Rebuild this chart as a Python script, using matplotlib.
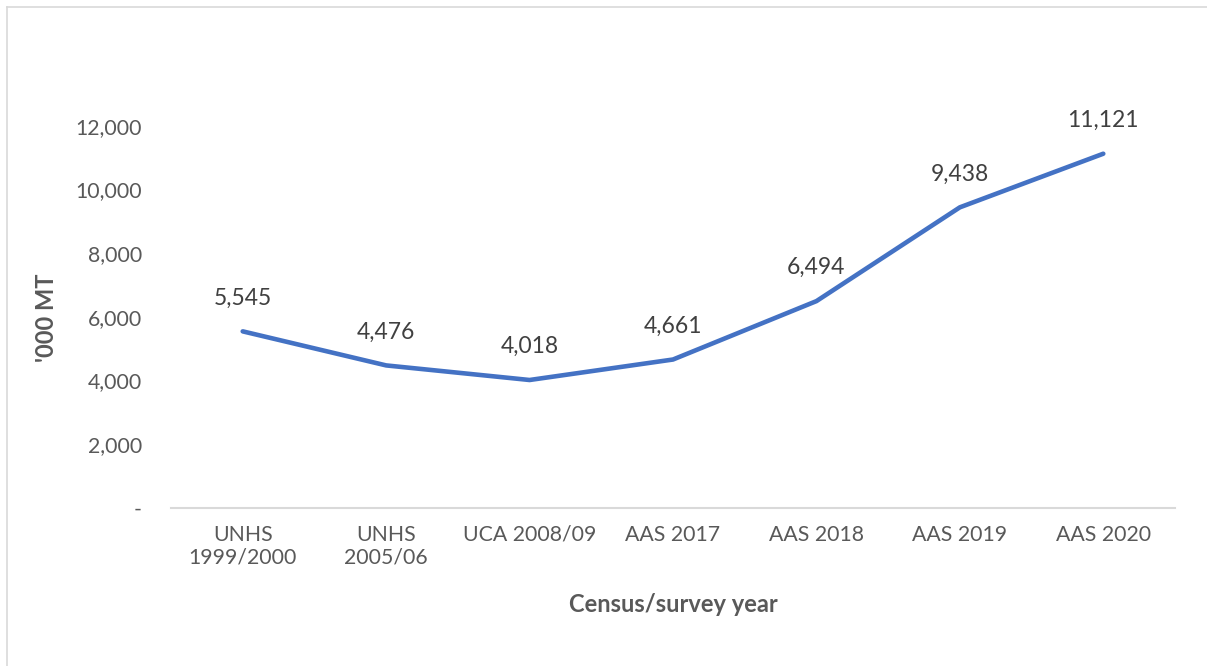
import matplotlib.pyplot as plt
from matplotlib.lines import Line2D

categories = ["UNHS\n1999/2000", "UNHS\n2005/06", "UCA 2008/09", "AAS 2017",
              "AAS 2018", "AAS 2019", "AAS 2020"]
production = [5545, 4476, 4018, 4661, 6494, 9438, 11121]
y_ticks = [0, 2000, 4000, 6000, 8000, 10000, 12000]

plt.rcParams["font.family"] = ["Lato", "DejaVu Sans"]

W, H = 1207, 666
fig = plt.figure(figsize=(W / 100, H / 100), dpi=100)
ax = fig.add_axes([171 / W, (H - 508) / H, 1004 / W, 446 / H])

x = list(range(len(categories)))
ax.plot(x, production, color="#4472C4", linewidth=3.3, solid_capstyle="round",
        solid_joinstyle="round")
for xi, v in zip(x, production):
    ax.annotate(f"{v:,}", (xi, v), xytext=(0, 24), textcoords="offset points",
                ha="center", va="center", fontsize=16.5, color="#404040")

ax.set_xlim(-0.5, len(categories) - 0.5)
ax.set_ylim(0, 14000)
ax.set_yticks(y_ticks)
ax.set_yticklabels(["-" if t == 0 else f"{t:,}" for t in y_ticks])
ax.set_xticks(x)
ax.set_xticklabels(categories)
ax.tick_params(axis="y", length=0, pad=21, labelsize=15.3, labelcolor="#595959")
ax.tick_params(axis="x", length=0, pad=12, labelsize=15.3, labelcolor="#595959")

for side in ["top", "right", "left"]:
    ax.spines[side].set_visible(False)
ax.spines["bottom"].set_color("#d9d9d9")
ax.spines["bottom"].set_linewidth(1.5)

fig.text(47 / W, 1 - 318 / H, "'000 MT", rotation=90, ha="center", va="center",
         fontsize=17, fontweight="bold", color="#595959")
fig.text(673 / W, 1 - 605 / H, "Census/survey year", ha="center", va="center",
         fontsize=17, fontweight="bold", color="#595959")

# chart frame (left and top edges visible)
fig.add_artist(Line2D([6.5 / W, 6.5 / W], [0, 1 - 6.5 / H], color="#d9d9d9", linewidth=1.2))
fig.add_artist(Line2D([6.5 / W, 1], [1 - 6.5 / H, 1 - 6.5 / H], color="#d9d9d9", linewidth=1.2))

fig.savefig("out.png", dpi=100)
